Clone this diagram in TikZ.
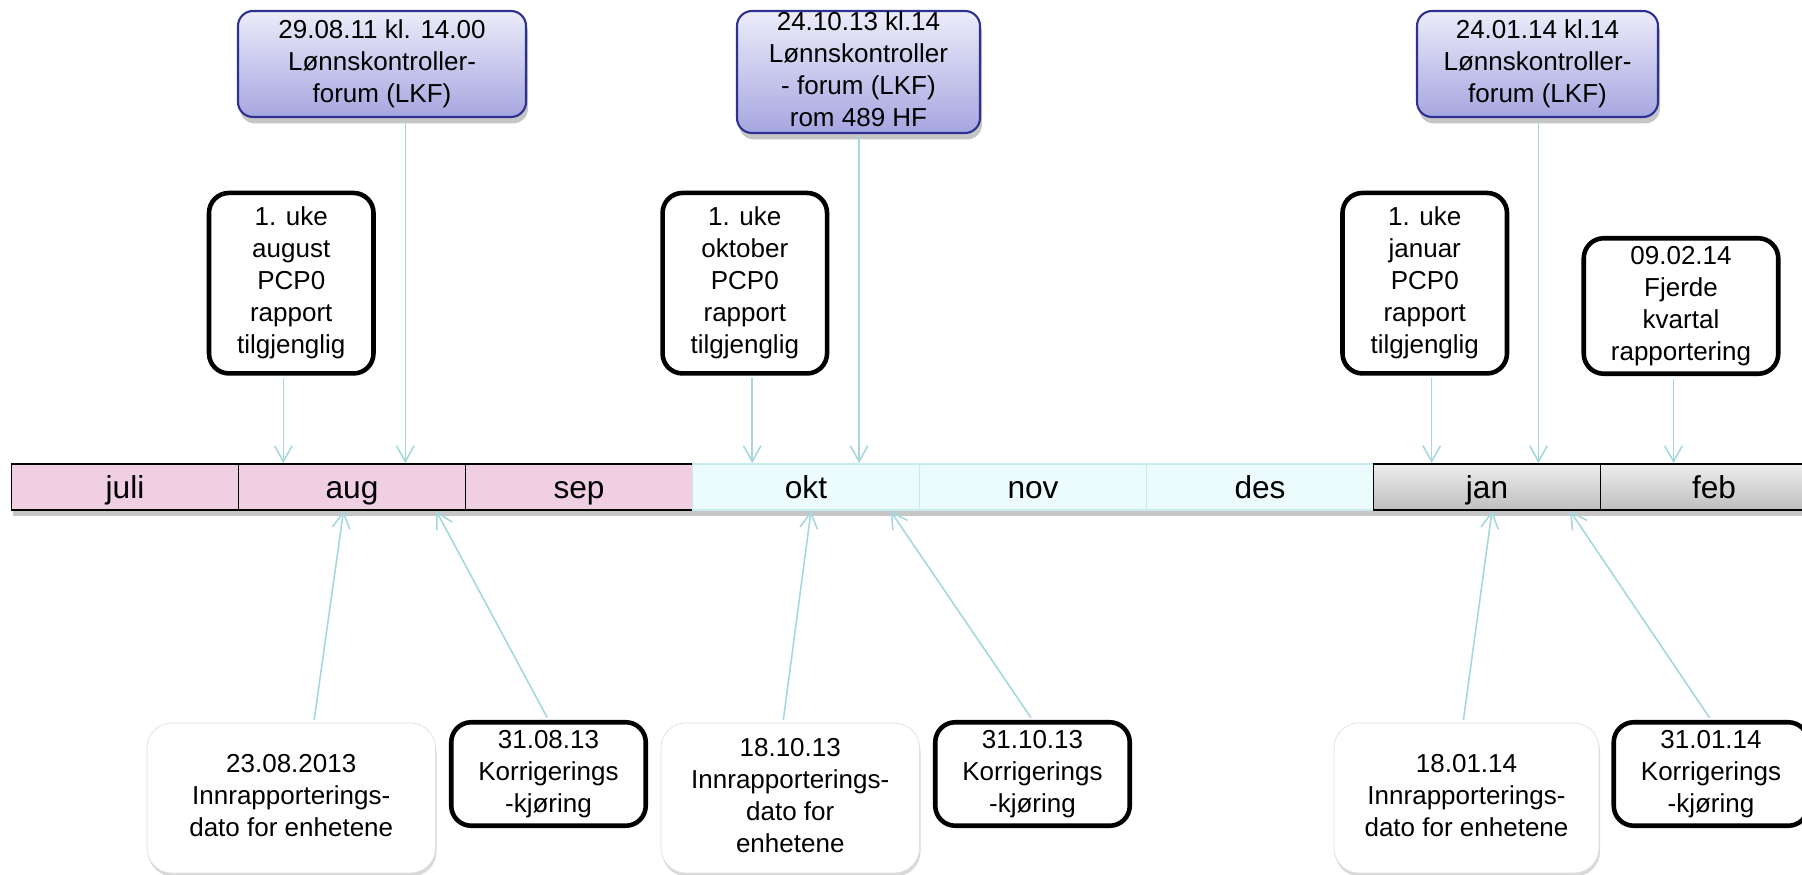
\documentclass[tikz,border=0pt]{standalone}
\usepackage{fontspec}
\setmainfont{Liberation Sans}
\usepackage{tikz}
\usetikzlibrary{arrows.meta}
\usetikzlibrary{positioning,calc}
\usetikzlibrary{shapes,shadows}

\definecolor{pinkmonth}{RGB}{240,207,226}
\definecolor{cyanmonth}{RGB}{236,252,253}
\definecolor{cyanedge}{RGB}{198,234,238}
\definecolor{forumtop}{RGB}{236,236,250}
\definecolor{forumbottom}{RGB}{166,166,224}
\definecolor{forumedge}{RGB}{46,49,146}
\definecolor{linkblue}{RGB}{165,215,220}

\tikzset{
    monthbox/.style={
           rectangle,
           draw=black, line width=1pt,
           node distance=4.54cm,
           minimum width=4.54cm,
           minimum height=0.92cm,
           inner sep=0pt,
           text height=13pt, text depth=0pt,
           font=\fontsize{18pt}{21pt}\selectfont,
           text centered,
           drop shadow={opacity=0.45,shadow xshift=0.02cm,shadow yshift=-0.12cm},
           },
    forum/.style={
           rectangle,
           rounded corners=0.3cm,
           draw=forumedge, line width=1.2pt,
           top color=forumtop, bottom color=forumbottom,
           inner sep=1pt,
           text centered,
           drop shadow={opacity=0.45,shadow xshift=0.04cm,shadow yshift=-0.13cm},
           },
    weekbox/.style={
           rectangle,
           rounded corners=0.4cm,
           draw=black, line width=2.6pt,
           fill=white,
           inner sep=1pt,
           text centered,
           },
    innbox/.style={
           rectangle,
           rounded corners=0.5cm,
           draw=black!12,
           fill=white,
           inner sep=1pt,
           text centered,
           drop shadow={opacity=0.3,shadow xshift=0.02cm,shadow yshift=-0.07cm},
           },
    link/.style={
           ->,
           color=linkblue, line width=0.9pt,
           shorten <=1.5pt,
           },
}

\begin{document}
\begin{tikzpicture}
[
>={Straight Barb[length=9pt,width=10pt]},
font=\fontsize{14.8pt}{18.1pt}\selectfont
]

 \useasboundingbox (0,0) rectangle (36.04,-17.5);

 % the months
 \node[monthbox, fill=pinkmonth] (JUL) at (2.5,-9.74) {juli};
 \node[monthbox, fill=pinkmonth, right of=JUL] (AUG) {aug};
 \node[monthbox, fill=pinkmonth, right of=AUG] (SEP) {sep};
 \node[monthbox, draw=cyanedge, fill=cyanmonth, right of=SEP] (OKT) {okt};
 \node[monthbox, draw=cyanedge, fill=cyanmonth, right of=OKT] (NOV) {nov};
 \node[monthbox, draw=cyanedge, fill=cyanmonth, right of=NOV] (DES) {des};
 \node[monthbox, top color=black!7, bottom color=black!25, right of=DES] (JAN) {jan};
 \node[monthbox, top color=black!7, bottom color=black!25, right of=JAN] (FEB) {feb};

 % LKF meetings
 \node[forum,
 minimum width=5.76cm,
 minimum height=2.12cm] (FORUMAUG) at (7.64,-1.28)
 {%
 \begin{tabular}{@{}c@{}}
  29.08.11 kl. 14.00\\
  Lønnskontroller-\\
  forum (LKF)
 \end{tabular}
 };

 \node[forum,
 minimum width=4.86cm,
 minimum height=2.44cm,
 inner ysep=-2.5pt] (FORUMOKT) at (17.17,-1.44)
 {%
 \begin{tabular}{@{}c@{}}
  24.10.13 kl.14\\
  Lønnskontroller\\
  - forum (LKF)\\
  rom 489 HF
 \end{tabular}
 };

 \node[forum,
 minimum width=4.82cm,
 minimum height=2.12cm] (FORUMJAN) at (30.75,-1.28)
 {%
 \begin{tabular}{@{}c@{}}
  24.01.14 kl.14\\
  Lønnskontroller-\\
  forum (LKF)
 \end{tabular}
 };

 % PCP0 reports
 \node[weekbox,
 minimum width=3.29cm,
 minimum height=3.61cm] (WEEKAUG) at (5.825,-5.664)
 {%
 \begin{tabular}{@{}c@{}}
  1. uke\\ august\\ PCP0\\ rapport\\ tilgjenglig
 \end{tabular}
 };

 \node[weekbox,
 minimum width=3.29cm,
 minimum height=3.61cm] (WEEKOKT) at (14.896,-5.664)
 {%
 \begin{tabular}{@{}c@{}}
  1. uke\\ oktober\\ PCP0\\ rapport\\ tilgjenglig
 \end{tabular}
 };

 \node[weekbox,
 minimum width=3.29cm,
 minimum height=3.61cm] (WEEKJAN) at (28.495,-5.664)
 {%
 \begin{tabular}{@{}c@{}}
  1. uke\\ januar\\ PCP0\\ rapport\\ tilgjenglig
 \end{tabular}
 };

 \node[weekbox,
 minimum width=3.89cm,
 minimum height=2.71cm] (KVARTAL) at (33.62,-6.12)
 {%
 \begin{tabular}{@{}c@{}}
  09.02.14\\ Fjerde\\ kvartal\\ rapportering
 \end{tabular}
 };

 % reporting dates
 \node[innbox,
 minimum width=5.77cm,
 minimum height=3cm] (INNAUG) at (5.825,-15.96)
 {%
 \begin{tabular}{@{}c@{}}
  23.08.2013\\ Innrapporterings-\\ dato for enhetene
 \end{tabular}
 };

 \node[innbox,
 minimum width=5.17cm,
 minimum height=3cm] (INNOKT) at (15.805,-15.96)
 {%
 \begin{tabular}{@{}c@{}}
  18.10.13\\ Innrapporterings-\\ dato for\\ enhetene
 \end{tabular}
 };

 \node[innbox,
 minimum width=5.3cm,
 minimum height=3cm] (INNJAN) at (29.33,-15.96)
 {%
 \begin{tabular}{@{}c@{}}
  18.01.14\\ Innrapporterings-\\ dato for enhetene
 \end{tabular}
 };

 % correction runs
 \node[weekbox,
 minimum width=3.89cm,
 minimum height=2.07cm] (KORAUG) at (10.97,-15.48)
 {%
 \begin{tabular}{@{}c@{}}
  31.08.13\\ Korrigerings\\ -kjøring
 \end{tabular}
 };

 \node[weekbox,
 minimum width=3.89cm,
 minimum height=2.07cm] (KOROKT) at (20.65,-15.48)
 {%
 \begin{tabular}{@{}c@{}}
  31.10.13\\ Korrigerings\\ -kjøring
 \end{tabular}
 };

 \node[weekbox,
 minimum width=3.89cm,
 minimum height=2.07cm] (KORJAN) at (34.22,-15.48)
 {%
 \begin{tabular}{@{}c@{}}
  31.01.14\\ Korrigerings\\ -kjøring
 \end{tabular}
 };

 % where the arrows meet the bar
 \coordinate (augA) at ($(AUG.north west)!0.20!(AUG.north east)$);
 \coordinate (augB) at ($(AUG.north west)!0.733!(AUG.north east)$);
 \coordinate (augC) at ($(AUG.south west)!0.463!(AUG.south east)$);
 \coordinate (augD) at ($(AUG.south west)!0.868!(AUG.south east)$);
 \coordinate (oktA) at ($(OKT.north west)!0.265!(OKT.north east)$);
 \coordinate (oktB) at ($(OKT.north west)!0.732!(OKT.north east)$);
 \coordinate (oktC) at ($(OKT.south west)!0.522!(OKT.south east)$);
 \coordinate (oktD) at ($(OKT.south west)!0.869!(OKT.south east)$);
 \coordinate (janA) at ($(JAN.north west)!0.258!(JAN.north east)$);
 \coordinate (janB) at ($(JAN.north west)!0.725!(JAN.north east)$);
 \coordinate (janC) at ($(JAN.south west)!0.522!(JAN.south east)$);
 \coordinate (janD) at ($(JAN.south west)!0.863!(JAN.south east)$);
 \coordinate (febA) at ($(FEB.north west)!0.323!(FEB.north east)$);

 % draw the arrows
 \path[link]
 (WEEKAUG.south -| augA) edge (augA)
 (FORUMAUG.south -| augB) edge (augB)
 (WEEKOKT.south -| oktA) edge (oktA)
 (FORUMOKT.south -| oktB) edge (oktB)
 (WEEKJAN.south -| janA) edge (janA)
 (FORUMJAN.south -| janB) edge (janB)
 (KVARTAL.south -| febA) edge (febA)
 ($(INNAUG.north west)!0.578!(INNAUG.north east)$) edge (augC)
 (KORAUG.north) edge (augD)
 ($(INNOKT.north west)!0.472!(INNOKT.north east)$) edge (oktC)
 (KOROKT.north) edge (oktD)
 ($(INNJAN.north west)!0.487!(INNJAN.north east)$) edge (janC)
 (KORJAN.north) edge (janD)
 ;

\end{tikzpicture}
\end{document}
